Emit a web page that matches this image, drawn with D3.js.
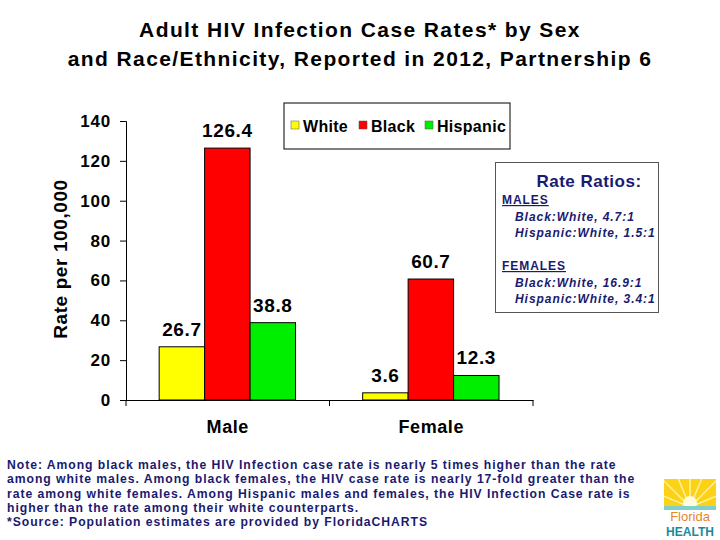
<!DOCTYPE html>
<html><head><meta charset="utf-8">
<script src="https://cdn.jsdelivr.net/npm/d3@7"></script>
<style>body{margin:0;background:#fff;}svg{display:block;font-family:Arial,"Liberation Sans",sans-serif;}</style>
</head><body>
<svg id="c" width="720" height="540"></svg>
<script>
const categories = ["Male", "Female"];
const seriesNames = ["White", "Black", "Hispanic"];
const white = [26.7, 3.6];
const black = [126.4, 60.7];
const hispanic = [38.8, 12.3];
const yTicks = [0, 20, 40, 60, 80, 100, 120, 140];
const colors = ["#ffff00", "#ff0000", "#00ee00"];
const titleLines = ["Adult HIV Infection Case Rates* by Sex", "and Race/Ethnicity, Reported in 2012, Partnership 6"];
const ratioLines = [
  {t:"MALES", u:true}, {t:"Black:White, 4.7:1"}, {t:"Hispanic:White, 1.5:1"}, {t:""},
  {t:"FEMALES", u:true}, {t:"Black:White, 16.9:1"}, {t:"Hispanic:White, 3.4:1"}
];
const noteLines = [
  "Note: Among black males, the HIV Infection case rate is nearly 5 times higher than the rate",
  "among white males. Among black females, the HIV case rate is nearly 17-fold greater than the",
  "rate among white females. Among Hispanic males and females, the HIV Infection Case rate is",
  "higher than the rate among their white counterparts.",
  "*Source: Population estimates are provided by FloridaCHARTS"
];
const series = [white, black, hispanic];
const navy = "#1a1a70";
const FF = "Arial,'Liberation Sans',sans-serif";

const svg = d3.select("#c");
const plot = {left:126, right:533, top:121, bottom:400};

svg.selectAll("text.title").data(titleLines).join("text")
  .attr("x", 360).attr("y", (d,i)=>37+i*29).attr("text-anchor","middle")
  .attr("font-size", 21).attr("letter-spacing", 1.4).attr("font-weight","bold").text(d=>d);

const x = d3.scaleBand().domain(categories).range([plot.left, plot.right]).paddingInner(0).paddingOuter(0);
const bw = x.bandwidth();
const xi = d3.scaleBand().domain(seriesNames).range([bw*0.163, bw*0.833]).padding(0);
const y = d3.scaleLinear().domain([0,140]).range([plot.bottom, plot.top]);

// bars
seriesNames.forEach((s, si) => {
  const g = svg.append("g");
  g.selectAll("rect").data(categories).join("rect")
    .attr("x", c => x(c) + xi(s)).attr("width", xi.bandwidth())
    .attr("y", (c,ci) => y(series[si][ci])).attr("height", (c,ci) => y(0) - y(series[si][ci]))
    .attr("fill", colors[si]).attr("stroke", "#000").attr("stroke-width", 1);
  g.selectAll("text").data(categories).join("text")
    .attr("x", c => x(c) + xi(s) + xi.bandwidth()/2)
    .attr("y", (c,ci) => y(series[si][ci]) - 11)
    .attr("text-anchor", "middle").attr("font-size", 19).attr("letter-spacing", 0.6).attr("font-weight", "bold")
    .text((c,ci) => series[si][ci].toFixed(1));
});

// y axis
const yAxis = svg.append("g").attr("transform", `translate(${plot.left},0)`)
  .call(d3.axisLeft(y).tickValues(yTicks).tickSize(6).tickPadding(9).tickFormat(d3.format("d")));
yAxis.select(".domain").attr("stroke","#000");
yAxis.selectAll("text").attr("font-size", 17).attr("letter-spacing", 0.8).attr("font-weight","bold").attr("fill","#000")
  .attr("font-family",FF);

// x axis
const xAxis = svg.append("g").attr("transform", `translate(0,${plot.bottom})`)
  .call(d3.axisBottom(x).tickSize(0).tickPadding(20));
xAxis.select(".domain").attr("stroke","#000");
xAxis.selectAll("text").attr("font-size", 18).attr("letter-spacing", 0.6).attr("font-weight","bold").attr("fill","#000")
  .attr("font-family",FF);
const bounds = [plot.left, x("Female"), plot.right];
svg.selectAll("line.xt").data(bounds).join("line")
  .attr("x1", d=>d).attr("x2", d=>d).attr("y1", plot.bottom).attr("y2", plot.bottom+6)
  .attr("stroke","#000");

// y label
svg.append("text").attr("transform","translate(67,259) rotate(-90)").attr("text-anchor","middle")
  .attr("font-size", 19).attr("letter-spacing", 0.6).attr("font-weight","bold").text("Rate per 100,000");

// legend
svg.append("rect").attr("x",284).attr("y",103).attr("width",226).attr("height",46)
  .attr("fill","#fff").attr("stroke","#000");
const legX = [291, 359, 425];
seriesNames.forEach((s,i)=>{
  svg.append("rect").attr("x",legX[i]).attr("y",121).attr("width",8).attr("height",8)
    .attr("fill",colors[i]).attr("stroke","#555").attr("stroke-width",0.5);
  svg.append("text").attr("x",legX[i]+12).attr("y",132).attr("font-size",16).attr("letter-spacing",0.3)
    .attr("font-weight","bold").text(s);
});

// rate ratios box
svg.append("rect").attr("x",495.5).attr("y",162.5).attr("width",163).attr("height",150)
  .attr("fill","#fff").attr("stroke","#555").attr("stroke-width",1);
svg.append("text").attr("x",589).attr("y",187).attr("text-anchor","middle")
  .attr("font-size",17).attr("letter-spacing",0.5).attr("font-weight","bold").attr("fill",navy).text("Rate Ratios:");
svg.selectAll("text.rr").data(ratioLines).join("text")
  .attr("x", d=>d.u?502:515).attr("y",(d,i)=>204+i*16.5)
  .attr("font-size",12).attr("font-weight","bold").attr("letter-spacing",0.95).attr("fill",navy)
  .attr("font-style", d=>d.u?"normal":"italic")
  .attr("text-decoration", d=>d.u?"underline":null)
  .text(d=>d.t);

// note
svg.selectAll("text.note").data(noteLines).join("text")
  .attr("x",7).attr("y",(d,i)=>469+i*14.3).attr("font-size",12.2).attr("letter-spacing",0.95).attr("font-weight","bold")
  .attr("fill",navy).text(d=>d);

// logo
svg.append("clipPath").attr("id","lc").append("rect").attr("x",0).attr("y",0).attr("width",52).attr("height",30);
const lg = svg.append("g").attr("transform","translate(664,479)");
lg.append("rect").attr("x",0).attr("y",0).attr("width",52).attr("height",30).attr("fill","#fcd116");
for (let k=0;k<9;k++){
  const a = Math.PI*(1+k/8);
  lg.append("line").attr("x1",26).attr("y1",28).attr("x2",26+40*Math.cos(a)).attr("y2",28+40*Math.sin(a))
    .attr("stroke","#fff3a0").attr("stroke-width",1.5).attr("clip-path","url(#lc)");
}
lg.append("circle").attr("cx",26).attr("cy",24).attr("r",7).attr("fill","#fffbe0");
lg.append("rect").attr("x",0).attr("y",27).attr("width",52).attr("height",4).attr("fill","#7fcfd0");
lg.append("text").attr("x",26).attr("y",42).attr("text-anchor","middle").attr("font-size",13)
  .attr("fill","#e8862a").attr("font-family","'Liberation Sans Narrow',Arial,sans-serif").text("Florida");
lg.append("text").attr("x",26).attr("y",57).attr("text-anchor","middle").attr("font-size",12).attr("font-weight","bold")
  .attr("fill","#1a8a9a").attr("font-family","'Liberation Sans Narrow',Arial,sans-serif").text("HEALTH");
</script>
</body></html>
